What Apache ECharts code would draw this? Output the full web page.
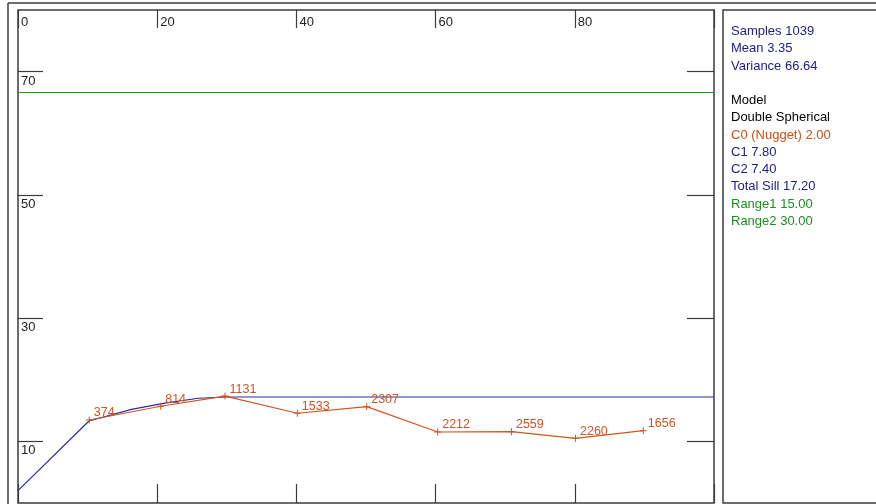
<!DOCTYPE html>
<html>
<head>
<meta charset="utf-8">
<script src="https://cdn.jsdelivr.net/npm/echarts@6/dist/echarts.min.js"></script>
<style>
  html, body { margin: 0; padding: 0; background: #ffffff; }
  #chart { width: 876px; height: 504px; }
</style>
</head>
<body>
<div id="chart"></div>
<script>
// Experimental semivariogram: lag distance, semivariance, pair count per lag
const lagDistance = [10.24, 20.5, 29.74, 40.13, 50.1, 60.3, 70.9, 80.1, 89.84];
const semivariance = [13.47, 15.7, 17.35, 14.56, 15.63, 11.52, 11.57, 10.5, 11.73];
const pairCount = [374, 814, 1131, 1533, 2307, 2212, 2559, 2260, 1656];

// Fitted double spherical model curve
const modelLag = [0, 10.2, 16.3, 21.1, 25.9, 30, 100];
const modelGamma = [2.0, 13.3, 15.2, 16.2, 17.0, 17.2, 17.2];

// Sample variance reference line
const sampleVariance = 66.64;

// Axis ticks
const xTickLabels = [0, 20, 40, 60, 80];
const yTicks = [10, 30, 50, 70];

// Statistics panel
const statLines = [
  { text: 'Samples 1039', kind: 'stat' },
  { text: 'Mean 3.35', kind: 'stat' },
  { text: 'Variance 66.64', kind: 'stat' },
  { text: '', kind: 'blank' },
  { text: 'Model', kind: 'plain' },
  { text: 'Double Spherical', kind: 'plain' },
  { text: 'C0 (Nugget) 2.00', kind: 'nugget' },
  { text: 'C1 7.80', kind: 'stat' },
  { text: 'C2 7.40', kind: 'stat' },
  { text: 'Total Sill 17.20', kind: 'stat' },
  { text: 'Range1 15.00', kind: 'range' },
  { text: 'Range2 30.00', kind: 'range' }
];

const colors = {
  stat: '#20208a',
  plain: '#000000',
  nugget: '#cc4f14',
  range: '#1e8c1e',
  blank: '#000000'
};

const FONT = '"Liberation Sans", Arial, sans-serif';
const frameColor = '#3c3c3c';

const chart = echarts.init(document.getElementById('chart'), null, { renderer: 'canvas' });

const panelTexts = statLines.map((l, i) => ({
  type: 'text',
  left: 731,
  top: 25 + i * 17.25,
  style: {
    text: l.text,
    fill: colors[l.kind],
    font: '13px ' + FONT
  }
}));

const tickStyle = { color: frameColor, width: 1.2 };

const option = {
  animation: false,
  backgroundColor: '#ffffff',
  grid: {
    left: 18, top: 10, right: 162, bottom: 1,
    show: true,
    borderColor: frameColor,
    borderWidth: 1.5,
    backgroundColor: 'transparent'
  },
  xAxis: [
    {
      type: 'value', position: 'top', min: 0, max: 100, interval: 20,
      axisLine: { show: false, onZero: false },
      splitLine: { show: false },
      axisTick: { show: true, inside: true, length: 18, lineStyle: tickStyle },
      axisLabel: {
        inside: true, margin: 6,
        align: 'left', padding: [0, 0, 0, 3],
        color: '#222', fontSize: 13, fontFamily: FONT,
        formatter: v => (xTickLabels.indexOf(v) >= 0 ? String(v) : '')
      }
    },
    {
      type: 'value', position: 'bottom', min: 0, max: 100, interval: 20,
      axisLine: { show: false, onZero: false },
      splitLine: { show: false },
      axisTick: { show: true, inside: true, length: 19, lineStyle: tickStyle },
      axisLabel: { show: false }
    }
  ],
  yAxis: [
    {
      type: 'value', position: 'left', min: 0, max: 80,
      axisLine: { show: false, onZero: false },
      splitLine: { show: false },
      axisTick: {
        show: true, inside: true, length: 25,
        customValues: yTicks,
        lineStyle: tickStyle
      },
      axisLabel: {
        inside: true, margin: 3,
        customValues: yTicks,
        verticalAlign: 'top', padding: [3, 0, 0, 0],
        color: '#222', fontSize: 13, fontFamily: FONT
      }
    },
    {
      type: 'value', position: 'right', min: 0, max: 80,
      axisLine: { show: false, onZero: false },
      splitLine: { show: false },
      axisTick: {
        show: true, inside: true, length: 27,
        customValues: yTicks,
        lineStyle: tickStyle
      },
      axisLabel: { show: false }
    }
  ],
  series: [
    {
      name: 'Variance',
      type: 'line',
      xAxisIndex: 0, yAxisIndex: 0,
      data: [],
      markLine: {
        silent: true,
        symbol: 'none',
        label: { show: false },
        lineStyle: { color: '#1e9a1e', width: 1, type: 'solid' },
        data: [{ yAxis: sampleVariance }]
      }
    },
    {
      name: 'Model',
      type: 'line',
      xAxisIndex: 0, yAxisIndex: 0,
      data: modelLag.map((h, i) => [h, modelGamma[i]]),
      showSymbol: false,
      lineStyle: { color: '#2c2c9c', width: 1.2 },
      z: 3
    },
    {
      name: 'Experimental',
      type: 'line',
      xAxisIndex: 0, yAxisIndex: 0,
      data: lagDistance.map((h, i) => [h, semivariance[i], pairCount[i]]),
      symbol: 'path://M0,3L7,3L7,4L0,4Z M3,0L4,0L4,7L3,7Z',
      symbolSize: 7,
      showSymbol: true,
      itemStyle: { color: '#cf5420' },
      lineStyle: { color: '#cf5420', width: 1.2 },
      label: {
        show: true,
        position: 'right',
        distance: 1,
        offset: [0, -7],
        color: '#cf5420',
        fontSize: 12.5,
        fontFamily: FONT,
        formatter: p => String(p.value[2])
      },
      z: 4
    }
  ],
  graphic: [
    // outer window frame
    { type: 'line', shape: { x1: 8, y1: 3, x2: 876, y2: 3 }, style: { stroke: frameColor, lineWidth: 1.5 } },
    { type: 'line', shape: { x1: 8, y1: 3, x2: 8, y2: 504 }, style: { stroke: frameColor, lineWidth: 1.5 } },
    // statistics panel box
    { type: 'rect', shape: { x: 723, y: 10, width: 160, height: 493 }, style: { fill: '#ffffff', stroke: frameColor, lineWidth: 1.5 } },
    ...panelTexts
  ]
};

chart.setOption(option);
</script>
</body>
</html>
